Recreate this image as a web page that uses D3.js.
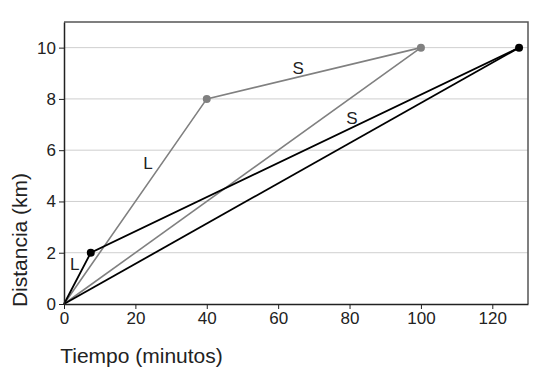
<!DOCTYPE html>
<html lang="en">
<head>
<meta charset="utf-8">
<title>Distancia vs Tiempo</title>
<style>
body{ margin:0; background:#fff; }
svg text{ font-family:"Liberation Sans", Arial, sans-serif; fill:#222; }
.axis text{ font-size:17px; }
.axis path, .axis line{ stroke:#222; }
</style>
</head>
<body>
<div id="chart"></div>
<script src="https://d3js.org/d3.v7.min.js"></script>
<script>
// series: [minutes, km]
var blackBent = [[0, 0], [7.5, 2], [127.5, 10]];
var blackStraight = [[0, 0], [127.5, 10]];
var grayBent = [[0, 0], [40, 8], [100, 10]];
var grayStraight = [[0, 0], [100, 10]];
var blackDots = [[7.5, 2], [127.5, 10]];
var grayDots = [[40, 8], [100, 10]];
var xTicks = [0, 20, 40, 60, 80, 100, 120];
var yTicks = [0, 2, 4, 6, 8, 10];
var labels = [
  { t: "L", x: 23.5, y: 5.28 },
  { t: "S", x: 65.6, y: 8.99 },
  { t: "S", x: 80.7, y: 7.04 },
  { t: "L", x: 3.0, y: 1.31 }
];

var margin = { top: 22, right: 22, bottom: 77, left: 64 };
var width = 550 - margin.left - margin.right;
var height = 381 - margin.top - margin.bottom;

var svg = d3.select("#chart").append("svg")
  .attr("width", 550)
  .attr("height", 381);

var graph = svg.append("g")
  .attr("transform", `translate(${margin.left}, ${margin.top})`);

var x = d3.scaleLinear().domain([0, 130]).range([0, width]);
var y = d3.scaleLinear().domain([0, 11]).range([height, 0]);

// grid
graph.selectAll("line.grid").data(yTicks.filter((d) => d > 0))
  .enter().append("line")
  .attr("class", "grid")
  .attr("x1", 0).attr("x2", width)
  .attr("y1", (d) => y(d)).attr("y2", (d) => y(d))
  .attr("stroke", "#cfcfcf").attr("stroke-width", 1);

// frame top/right
graph.append("path")
  .attr("d", `M0,0H${width}V${height}`)
  .attr("fill", "none").attr("stroke", "#555").attr("stroke-width", 1.5);

var line = d3.line().x((d) => x(d[0])).y((d) => y(d[1]));

graph.append("path").datum(grayBent).attr("d", line)
  .attr("fill", "none").attr("stroke", "#808080").attr("stroke-width", 1.6);
graph.append("path").datum(grayStraight).attr("d", line)
  .attr("fill", "none").attr("stroke", "#808080").attr("stroke-width", 1.6);
graph.append("path").datum(blackBent).attr("d", line)
  .attr("fill", "none").attr("stroke", "#000").attr("stroke-width", 1.8);
graph.append("path").datum(blackStraight).attr("d", line)
  .attr("fill", "none").attr("stroke", "#000").attr("stroke-width", 1.8);

graph.selectAll("circle.g").data(grayDots)
  .enter().append("circle")
  .attr("cx", (d) => x(d[0])).attr("cy", (d) => y(d[1]))
  .attr("r", 4).attr("fill", "#808080");
graph.selectAll("circle.b").data(blackDots)
  .enter().append("circle")
  .attr("cx", (d) => x(d[0])).attr("cy", (d) => y(d[1]))
  .attr("r", 4).attr("fill", "#000");

graph.selectAll("text.lab").data(labels)
  .enter().append("text")
  .attr("x", (d) => x(d.x)).attr("y", (d) => y(d.y))
  .attr("text-anchor", "middle")
  .attr("font-size", 17)
  .text((d) => d.t);

var xAxis = d3.axisBottom(x).tickValues(xTicks).tickSize(5).tickSizeOuter(0);
var yAxis = d3.axisLeft(y).tickValues(yTicks).tickSize(5).tickSizeOuter(0);

graph.append("g").attr("class", "axis")
  .attr("transform", `translate(0, ${height})`)
  .call(xAxis)
  .call((g) => g.select(".domain").attr("stroke-width", 1.5));
graph.append("g").attr("class", "axis")
  .call(yAxis)
  .call((g) => g.select(".domain").attr("stroke-width", 1.5));

graph.selectAll(".axis text").style("fill", "#222");

svg.append("text")
  .attr("x", 141.5).attr("y", 363)
  .attr("text-anchor", "middle")
  .attr("font-size", 21)
  .text("Tiempo (minutos)");

svg.append("text")
  .attr("transform", "translate(27, 240) rotate(-90)")
  .attr("text-anchor", "middle")
  .attr("font-size", 21)
  .text("Distancia (km)");
</script>
</body>
</html>
